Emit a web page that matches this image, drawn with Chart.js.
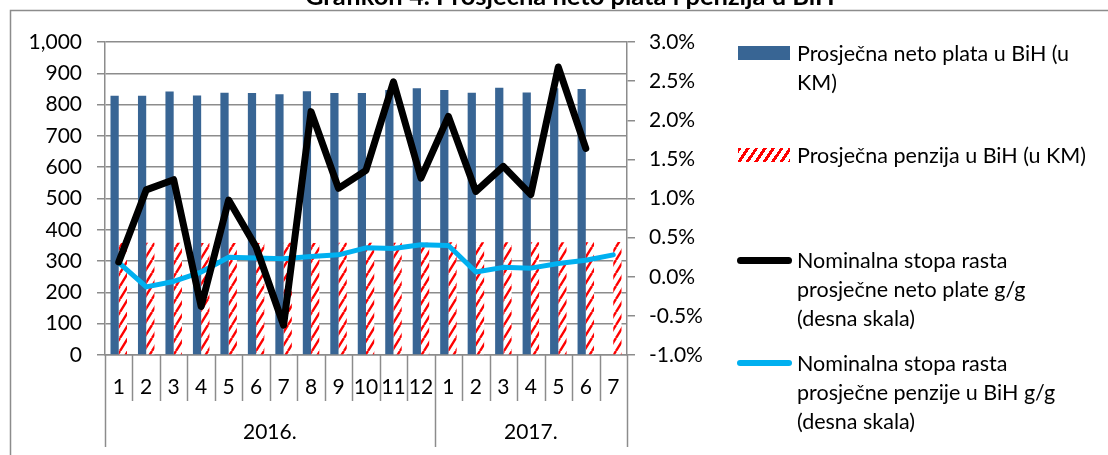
<!DOCTYPE html>
<html lang="bs">
<head>
  <meta charset="UTF-8" />
  <title>Grafikon 4</title>
  <script src="https://cdn.jsdelivr.net/npm/chart.js"></script>
  <style>
    html, body { margin: 0; padding: 0; background: #fff; overflow: hidden; }
    .wrap { position: relative; width: 1108px; height: 455px; }
    .legend { position: absolute; left: 0; top: 0; font-family: Lato, sans-serif; font-size: 21.5px; color: #000; }
    .item { position: absolute; left: 797px; line-height: 29px; white-space: nowrap; }
    .swatch { position: absolute; }
  </style>
</head>
<body>
  <div class="wrap">
    <canvas id="chart" width="1108" height="455"></canvas>
    <div class="legend" id="legend"></div>
  </div>

  <script>
    // categories
    const months = ["1","2","3","4","5","6","7","8","9","10","11","12","1","2","3","4","5","6","7"];
    const years = ["2016.", "2017."];
    const yearSpans = [12, 7];

    // series (left scale, KM)
    const netSalary = [828, 828, 842, 829, 838, 837, 833, 843, 837, 837, 847, 852, 847, 838, 854, 839, 852, 850, null];
    const pension = [358, 359, 359, 358, 358, 358, 359, 358, 359, 359, 359, 359, 360, 360, 360, 360, 360, 360, 361];

    // series (right scale, %)
    const salaryGrowth = [0.19, 1.11, 1.24, -0.38, 0.98, 0.38, -0.62, 2.11, 1.13, 1.36, 2.49, 1.26, 2.05, 1.09, 1.41, 1.05, 2.68, 1.64, null];
    const pensionGrowth = [0.18, -0.13, -0.06, 0.06, 0.25, 0.24, 0.23, 0.26, 0.28, 0.37, 0.36, 0.41, 0.40, 0.06, 0.12, 0.11, 0.17, 0.21, 0.28];

    const seriesNames = [
      "Prosječna neto plata u BiH (u KM)",
      "Prosječna penzija u BiH (u KM)",
      "Nominalna stopa rasta prosječne neto plate g/g (desna skala)",
      "Nominalna stopa rasta prosječne penzije u BiH g/g (desna skala)"
    ];
    const legendLines = [
      ["Prosječna neto plata u BiH (u", "KM)"],
      ["Prosječna penzija u BiH (u KM)"],
      ["Nominalna stopa rasta", "prosječne neto plate g/g", "(desna skala)"],
      ["Nominalna stopa rasta", "prosječne penzije u BiH g/g", "(desna skala)"]
    ];
    const title = "Grafikon 4. Prosječna neto plata i penzija u BiH";

    const BLUE = "#386594";
    const RED = "#ff0000";
    const CYAN = "#00b0f0";
    const GRID = "#8c8c8c";
    const FONT = "Lato, sans-serif";

    const ctx = document.getElementById("chart").getContext("2d");

    function makeHatch() {
      const c = document.createElement("canvas");
      c.width = 8; c.height = 13;
      const g = c.getContext("2d");
      g.fillStyle = "#fff";
      g.fillRect(0, 0, 8, 13);
      g.strokeStyle = RED;
      g.lineWidth = 2.4;
      g.beginPath();
      g.moveTo(0, 13); g.lineTo(8, 0);
      g.moveTo(-8, 13); g.lineTo(0, 0);
      g.moveTo(8, 13); g.lineTo(16, 0);
      g.stroke();
      return ctx.createPattern(c, "repeat");
    }

    // frame, cut-off title, two level category axis
    const decorations = {
      id: "decorations",
      beforeDraw(chart) {
        const c = chart.ctx;
        c.save();
        c.fillStyle = "#fff";
        c.fillRect(0, 0, chart.width, chart.height);
        c.strokeStyle = GRID;
        c.lineWidth = 1.5;
        c.beginPath();
        c.moveTo(10.5, chart.height);
        c.lineTo(10.5, 10.5);
        c.lineTo(chart.width, 10.5);
        c.stroke();
        c.fillStyle = "#000";
        c.font = "bold 25.5px " + FONT;
        c.textAlign = "left";
        c.textBaseline = "alphabetic";
        c.fillText(title, 305, 5);
        c.restore();
      },
      afterDraw(chart) {
        const x = chart.scales.x;
        const c = chart.ctx;
        const bottom = chart.chartArea.bottom;
        const w = x.width / months.length;
        c.save();
        c.strokeStyle = GRID;
        c.lineWidth = 1.5;
        c.fillStyle = "#000";
        c.font = "21px " + FONT;
        c.textAlign = "center";
        c.textBaseline = "middle";

        const groupEdges = [0];
        yearSpans.forEach(n => groupEdges.push(groupEdges[groupEdges.length - 1] + n));

        for (let i = 0; i <= months.length; i++) {
          const px = Math.round(x.getPixelForValue(i) - w / 2) + 0.5;
          const long = groupEdges.includes(i);
          c.beginPath();
          c.moveTo(px, bottom);
          c.lineTo(px, long ? bottom + 92 : bottom + 46);
          c.stroke();
        }
        months.forEach((m, i) => {
          c.fillText(m, x.getPixelForValue(i), bottom + 32);
        });
        years.forEach((y, k) => {
          const a = x.getPixelForValue(groupEdges[k]) - w / 2;
          const b = x.getPixelForValue(groupEdges[k + 1]) - w / 2;
          c.fillText(y, (a + b) / 2, bottom + 77);
        });
        c.restore();
      }
    };

    new Chart(ctx, {
      data: {
        labels: months,
        datasets: [
          {
            type: "line",
            label: seriesNames[2],
            data: salaryGrowth,
            yAxisID: "y1",
            borderColor: "#000",
            borderWidth: 7,
            pointRadius: 0,
            tension: 0,
            borderJoinStyle: "round",
            borderCapStyle: "round",
            order: 0
          },
          {
            type: "line",
            label: seriesNames[3],
            data: pensionGrowth,
            yAxisID: "y1",
            borderColor: CYAN,
            borderWidth: 5,
            pointRadius: 0,
            tension: 0,
            borderJoinStyle: "round",
            borderCapStyle: "round",
            order: 1
          },
          {
            type: "bar",
            label: seriesNames[0],
            data: netSalary,
            yAxisID: "y",
            backgroundColor: BLUE,
            categoryPercentage: 0.6,
            barPercentage: 1,
            order: 2
          },
          {
            type: "bar",
            label: seriesNames[1],
            data: pension,
            yAxisID: "y",
            backgroundColor: makeHatch(),
            categoryPercentage: 0.6,
            barPercentage: 1,
            order: 3
          }
        ]
      },
      options: {
        responsive: false,
        animation: false,
        devicePixelRatio: 1,
        layout: { padding: { left: 0, right: 381, top: 42, bottom: 0 } },
        plugins: {
          legend: { display: false },
          tooltip: { enabled: false }
        },
        scales: {
          x: {
            grid: { display: false },
            border: { display: true, color: GRID, width: 1.5 },
            ticks: { display: false },
            afterFit: s => { s.height = 100; }
          },
          y: {
            position: "left",
            min: 0,
            max: 1000,
            ticks: {
              stepSize: 100,
              padding: 15,
              color: "#000",
              font: { family: FONT, size: 21 },
              callback: v => v.toLocaleString("en-US")
            },
            grid: { color: GRID, lineWidth: 1.5, tickLength: 8 },
            border: { color: GRID, width: 1.5 },
            afterFit: s => { s.width = 105; }
          },
          y1: {
            position: "right",
            min: -1,
            max: 3,
            ticks: {
              stepSize: 0.5,
              padding: 14,
              color: "#000",
              font: { family: FONT, size: 21 },
              callback: v => v.toFixed(1) + "%"
            },
            grid: { drawOnChartArea: false, color: GRID, lineWidth: 1.5, tickLength: 8 },
            border: { color: GRID, width: 1.5 },
            afterFit: s => { s.width = 100; }
          }
        }
      },
      plugins: [decorations]
    });

    // legend laid out as in the original figure
    const legendTops = [53, 155, 260, 363];
    const legend = document.getElementById("legend");
    legendLines.forEach((lines, i) => {
      const sw = document.createElement("div");
      sw.className = "swatch";
      const cy = legendTops[i];
      if (i === 0) {
        Object.assign(sw.style, { left: "738px", top: (cy - 7) + "px", width: "52px", height: "14px", background: BLUE });
      } else if (i === 1) {
        Object.assign(sw.style, { left: "738px", top: (cy - 7) + "px", width: "52px", height: "14px",
          background: "repeating-linear-gradient(124deg, " + RED + " 0 3px, #fff 3px 7px)" });
      } else {
        Object.assign(sw.style, { left: "737px", top: (cy - (i === 2 ? 3.5 : 3)) + "px", width: "55px",
          height: (i === 2 ? 7 : 6) + "px", borderRadius: "4px", background: i === 2 ? "#000" : CYAN });
      }
      legend.appendChild(sw);
      const it = document.createElement("div");
      it.className = "item";
      it.style.top = (cy - 14.5) + "px";
      it.innerHTML = lines.join("<br>");
      legend.appendChild(it);
    });
  </script>
</body>
</html>
